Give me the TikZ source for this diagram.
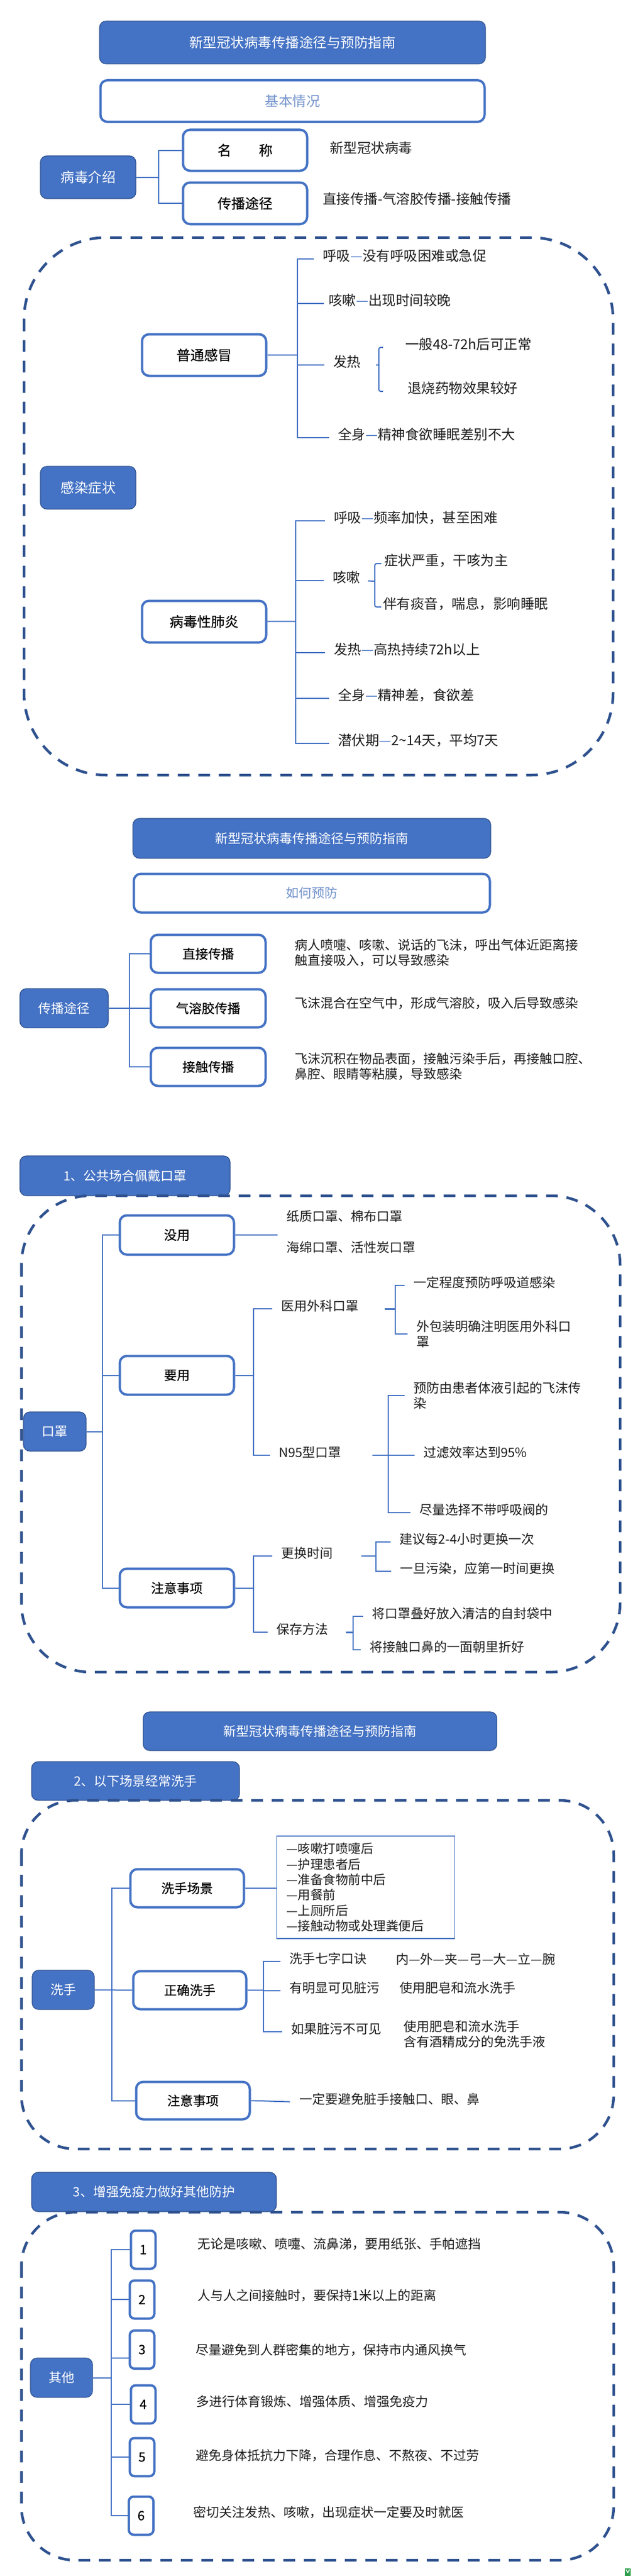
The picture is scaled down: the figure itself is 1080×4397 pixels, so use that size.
\documentclass[tikz,border=0pt]{standalone}
\usepackage{fontspec}
\setmainfont{Noto Sans CJK SC}
\newfontfamily\boxface[FakeBold=0.35]{Noto Sans CJK SC}
\usepackage{xcolor}
\definecolor{boxblue}{HTML}{4472C4}
\definecolor{edgeblue}{HTML}{2F528F}
\definecolor{paleblue}{HTML}{7393CB}
\definecolor{inkgrey}{HTML}{1C1C1C}
\definecolor{badgegreen}{HTML}{2E9E4A}
\newcommand{\sizeA}{\fontsize{23.5}{28}\selectfont}
\newcommand{\sizeB}{\fontsize{22}{26.5}\selectfont}
\newcommand{\bluedash}{\textcolor{boxblue}{—}}
\tikzset{
  headbox/.style={draw=edgeblue, fill=boxblue, line width=1.2pt, rounded corners=11pt,
    text=white, font=\sizeB, inner sep=0pt},
  outlinebox/.style={draw=boxblue, fill=white, line width=4pt, rounded corners=12pt,
    text=paleblue, font=\sizeB, inner sep=0pt},
  itembox/.style={draw=boxblue, fill=white, line width=4pt, rounded corners=12pt,
    text=black, font=\sizeB\boxface, inner sep=0pt},
  numbox/.style={itembox, minimum width=42pt, minimum height=65pt, rounded corners=8pt},
  txt/.style={anchor=west, inner sep=0pt, text=inkgrey, font=\sizeB,
    text height=.84em, text depth=.12em},
  txtm/.style={anchor=west, inner sep=0pt, text=inkgrey, font=\sizeB, align=left},
  link/.style={draw=boxblue, line width=2pt},
  tolabel/.style={link, shorten >=15pt},
  frame/.style={draw=edgeblue, line width=4.5pt, dash pattern=on 20pt off 15pt},
}
\begin{document}
\begin{tikzpicture}[x=1pt, y=-1pt]
  \useasboundingbox (0,0) rectangle (1080,4397);

  % ── Basic facts ──
  \begin{scope}[txt/.append style={font=\sizeA},
      headbox/.append style={font=\sizeA},
      outlinebox/.append style={font=\sizeA},
      itembox/.append style={font=\sizeA\boxface}]
    \node[headbox, minimum width=659pt, minimum height=73pt] (title1) at (499.5,72.5)
      {新型冠状病毒传播途径与预防指南};
    \node[outlinebox, minimum width=656pt, minimum height=71pt] (basic) at (499.5,172.5) {基本情况};

    \node[headbox, minimum width=163pt, minimum height=73pt] (intro) at (150.5,302.5) {病毒介绍};
    \node[itembox, minimum width=212pt, minimum height=70pt] (name) at (418.5,256.5) {名　　称};
    \node[itembox, minimum width=212pt, minimum height=71pt] (route) at (418.5,347) {传播途径};
    \node[txt] (nameval) at (563,258) {新型冠状病毒};
    \node[txt] (routeval) at (551,345) {直接传播-气溶胶传播-接触传播};
    \coordinate (it) at (271,302.5);
    \draw[link] (intro) -- (it);
    \draw[link] (name.west) -| (it) |- (route.west);

    % Symptoms frame
    \draw[frame, rounded corners=140pt] (41,405.5) rectangle (1047,1323);
    \node[headbox, minimum width=163pt, minimum height=73pt] (symptom) at (150.5,832.5) {感染症状};

    % Common cold
    \node[itembox, minimum width=212pt, minimum height=71pt] (cold) at (348.5,606) {普通感冒};
    \node[txt] (cbreath) at (551,442) {呼吸\bluedash 没有呼吸困难或急促};
    \node[txt] (ccough) at (561,517.5) {咳嗽\bluedash 出现时间较晚};
    \node[txt] (cfever) at (569,623) {发热};
    \node[txt] (cfevera) at (692,593) {一般48-72h后可正常};
    \node[txt] (cfeverb) at (696,668) {退烧药物效果较好};
    \node[txt] (cbody) at (577,747) {全身\bluedash 精神食欲睡眠差别不大};
    \coordinate (ct) at (508,606);
    \draw[link] (cold) -- (ct);
    \draw[tolabel] (ct) |- (cbreath.west);
    \draw[tolabel, shorten >=8pt] (ct) |- (ccough.west);
    \draw[tolabel] (ct) |- (cfever.west);
    \draw[tolabel] (ct) |- (cbody.west);
    \coordinate (cb) at (647,623);
    \draw[link, shorten <=26pt] (cfever.east) -- (cb);
    \draw[link, rounded corners=3pt, shorten >=38pt] (cb) |- (cfevera.west);
    \draw[link, rounded corners=3pt, shorten >=42pt] (cb) |- (cfeverb.west);

    % Viral pneumonia
    \node[itembox, minimum width=212pt, minimum height=71pt] (flu) at (348.5,1061) {病毒性肺炎};
    \node[txt] (fbreath) at (570,889) {呼吸\bluedash 频率加快，甚至困难};
    \node[txt] (fcough) at (568,991) {咳嗽};
    \node[txt] (fcougha) at (656,962) {症状严重，干咳为主};
    \node[txt] (fcoughb) at (654,1036) {伴有痰音，喘息，影响睡眠};
    \node[txt] (ffever) at (570,1114) {发热\bluedash 高热持续72h以上};
    \node[txt] (fbody) at (577,1191.5) {全身\bluedash 精神差，食欲差};
    \node[txt] (fdelay) at (577,1269) {潜伏期\bluedash 2\textasciitilde 14天，平均7天};
    \coordinate (ft) at (505,1060.5);
    \draw[link] (flu) -- (ft);
    \draw[tolabel] (ft) |- (fbreath.west);
    \draw[tolabel] (ft) |- (fcough.west);
    \draw[tolabel] (ft) |- (ffever.west);
    \draw[tolabel] (ft) |- (fbody.west);
    \draw[tolabel] (ft) |- (fdelay.west);
    \coordinate (fb) at (640,992);
    \draw[link, shorten <=13pt] (fcough.east) -- (fb);
    \draw[link, rounded corners=3pt, shorten >=5pt] (fb) |- (fcougha.west);
    \draw[link, rounded corners=3pt, shorten >=3pt] (fb) |- (fcoughb.west);
  \end{scope}

  % ── Transmission ──
  \node[headbox, minimum width=611pt, minimum height=68pt] (title2) at (532.5,1431)
    {新型冠状病毒传播途径与预防指南};
  \node[outlinebox, minimum width=608pt, minimum height=66pt] (howto) at (532.5,1524.5) {如何预防};
  \node[headbox, minimum width=151pt, minimum height=67pt] (route2) at (109.5,1721) {传播途径};
  \node[itembox, minimum width=196pt, minimum height=65pt] (direct) at (355.5,1628) {直接传播};
  \node[itembox, minimum width=196pt, minimum height=65pt] (aerosol) at (355.5,1721) {气溶胶传播};
  \node[itembox, minimum width=196pt, minimum height=65pt] (contact) at (355.5,1821) {接触传播};
  \node[txtm] (directval) at (503,1626.5) {病人喷嚏、咳嗽、说话的飞沫，呼出气体近距离接\\触直接吸入，可以导致感染};
  \node[txt] (aerosolval) at (503,1717) {飞沫混合在空气中，形成气溶胶，吸入后导致感染};
  \node[txtm] (contactval) at (503,1820.5) {飞沫沉积在物品表面，接触污染手后，再接触口腔、\\鼻腔、眼睛等粘膜，导致感染};
  \coordinate (rt) at (221,1721);
  \draw[link] (route2) -- (aerosol);
  \draw[link] (direct.west) -| (rt) |- (contact.west);

  % ── Masks ──
  \node[headbox, minimum width=359pt, minimum height=68pt] (title3) at (213.5,2007) {1、公共场合佩戴口罩};
  \draw[frame, rounded corners=118pt] (36.5,2041) rectangle (1059,2854);
  \node[headbox, minimum width=107pt, minimum height=67pt] (mask) at (93.5,2443.5) {口罩};
  \node[itembox, minimum width=195pt, minimum height=67pt] (useless) at (302,2108) {没用};
  \node[itembox, minimum width=195pt, minimum height=66pt] (useful) at (302,2347.5) {要用};
  \node[itembox, minimum width=195pt, minimum height=66pt] (notes) at (302,2710.5) {注意事项};
  \coordinate (mt) at (175,2443.5);
  \draw[link] (mask) -- (mt);
  \draw[link] (useless.west) -| (mt) |- (notes.west);
  \draw[link] (useful.west -| mt) -- (useful.west);

  % Useless kinds
  \node[txt] (uselessa) at (489,2081) {纸质口罩、棉布口罩};
  \node[txt] (uselessb) at (489,2134) {海绵口罩、活性炭口罩};
  \coordinate (uselessend) at (474,2108);
  \draw[link] (useless.east) -- (uselessend);

  % Useful kinds
  \node[txt] (surgical) at (480,2234) {医用外科口罩};
  \node[txt] (surgicala) at (706,2194) {一定程度预防呼吸道感染};
  \node[txtm] (surgicalb) at (711,2277) {外包装明确注明医用外科口\\罩};
  \node[txt] (nninety) at (476,2484) {N95型口罩};
  \node[txtm] (nninetya) at (706,2382) {预防由患者体液引起的飞沫传\\染};
  \node[txt] (nninetyb) at (723,2484) {过滤效率达到95\%};
  \node[txt] (nninetyc) at (716,2582) {尽量选择不带呼吸阀的};
  \coordinate (ut) at (433,2347.5);
  \draw[link] (useful) -- (ut);
  \draw[tolabel] (ut) |- (surgical.west);
  \draw[tolabel] (ut) |- (nninety.west);
  \coordinate (st) at (675,2234);
  \draw[link, shorten <=45pt, line width=3pt] (surgical.east) -- (st);
  \draw[tolabel] (st) |- (surgicala.west);
  \draw[tolabel] (st) |- (surgicalb.west);
  \coordinate (nt) at (662.5,2484);
  \draw[link, shorten <=53pt, shorten >=15pt] (nninety.east) -- (nninetyb.west);
  \draw[tolabel] (nt) |- (nninetya.west);
  \draw[tolabel] (nt) |- (nninetyc.west);

  % Notes
  \node[txt] (swap) at (480,2656) {更换时间};
  \node[txt] (swapa) at (682,2632) {建议每2-4小时更换一次};
  \node[txt] (swapb) at (683,2682) {一旦污染，应第一时间更换};
  \node[txt] (store) at (472,2786) {保存方法};
  \node[txt] (storea) at (635,2759) {将口罩叠好放入清洁的自封袋中};
  \node[txt] (storeb) at (631,2816) {将接触口鼻的一面朝里折好};
  \coordinate (nnt) at (433,2710.5);
  \draw[link] (notes) -- (nnt);
  \draw[tolabel] (nnt) |- (swap.west);
  \draw[tolabel] (nnt) |- (store.west);
  \coordinate (swt) at (642,2656);
  \draw[link, shorten <=49pt] (swap.east) -- (swt);
  \draw[tolabel] (swt) |- (swapa.west);
  \draw[tolabel] (swt) |- (swapb.west);
  \coordinate (stt) at (603,2786);
  \draw[link, shorten <=31pt, line width=3pt] (store.east) -- (stt);
  \draw[tolabel] (stt) |- (storea.west);
  \draw[tolabel] (stt) |- (storeb.west);

  % ── Hand washing ──
  \node[headbox, minimum width=604pt, minimum height=66pt] (title4) at (546.5,2955)
    {新型冠状病毒传播途径与预防指南};
  \node[headbox, minimum width=355pt, minimum height=66pt] (title5) at (231.5,3040) {2、以下场景经常洗手};
  \draw[frame, rounded corners=92pt] (36.5,3073) rectangle (1048,3668);
  \node[headbox, minimum width=106pt, minimum height=67pt] (wash) at (108,3396.5) {洗手};
  \node[itembox, minimum width=194pt, minimum height=65pt] (scene) at (319.5,3223) {洗手场景};
  \node[itembox, minimum width=193pt, minimum height=65pt] (rightway) at (324,3397) {正确洗手};
  \node[itembox, minimum width=194pt, minimum height=64pt] (notes2) at (329.5,3585.5) {注意事项};
  \coordinate (wt) at (191,3396.5);
  \draw[link] (wash) -- (rightway);
  \draw[link] (scene.west) -| (wt) |- (notes2.west);

  % When to wash
  \node[draw=boxblue, line width=1.6pt, inner xsep=17pt, minimum height=175pt, text width=270pt,
    align=left, text=inkgrey, font=\fontsize{21.5}{26.4}\selectfont] (when) at (624.5,3221.5)
    {—咳嗽打喷嚏后\\—护理患者后\\—准备食物前中后\\—用餐前\\—上厕所后\\—接触动物或处理粪便后};
  \draw[link] (scene.east) -- (scene.east -| when.west);

  % How to wash
  \node[txt] (rhyme) at (494,3348) {洗手七字口诀};
  \node[txt] (rhymeval) at (676,3349) {内—外—夹—弓—大—立—腕};
  \node[txt] (dirty) at (494,3398) {有明显可见脏污};
  \node[txt] (dirtyval) at (682,3398) {使用肥皂和流水洗手};
  \node[txt] (clean) at (497,3468) {如果脏污不可见};
  \node[txtm] (cleanval) at (689,3472) {使用肥皂和流水洗手\\含有酒精成分的免洗手液};
  \coordinate (rwt) at (450,3397);
  \draw[link] (rightway.east) -- (rwt);
  \draw[tolabel] (rwt) |- (rhyme.west);
  \draw[tolabel] (rwt) |- (dirty.west);
  \draw[tolabel] (rwt) |- (clean.west);

  \node[txt] (notes2val) at (511,3588) {一定要避免脏手接触口、眼、鼻};
  \draw[tolabel, shorten >=16pt] (notes2.east) -- (notes2val.west);

  % ── Immunity and other protection ──
  \node[headbox, minimum width=418pt, minimum height=67pt] (title6) at (263,3741.5) {3、增强免疫力做好其他防护};
  \draw[frame, rounded corners=92pt] (36.5,3776) rectangle (1048,4370);
  \node[headbox, minimum width=106pt, minimum height=67pt] (other) at (105,4058.5) {其他};
  \node[numbox] (one) at (244.5,3840) {1};
  \node[numbox] (two) at (242.5,3925) {2};
  \node[numbox] (three) at (242.5,4010.5) {3};
  \node[numbox] (four) at (244.5,4104) {4};
  \node[numbox] (five) at (242.5,4194) {5};
  \node[numbox] (six) at (241,4294) {6};
  \node[txt] (oneval) at (337.5,3835) {无论是咳嗽、喷嚏、流鼻涕，要用纸张、手帕遮挡};
  \node[txt] (twoval) at (337.5,3923) {人与人之间接触时，要保持1米以上的距离};
  \node[txt] (threeval) at (334,4016) {尽量避免到人群密集的地方，保持市内通风换气};
  \node[txt] (fourval) at (335,4104) {多进行体育锻炼、增强体质、增强免疫力};
  \node[txt] (fiveval) at (334,4195.5) {避免身体抵抗力下降，合理作息、不熬夜、不过劳};
  \node[txt] (sixval) at (330.5,4293) {密切关注发热、咳嗽，出现症状一定要及时就医};
  \coordinate (ot) at (190,4058.5);
  \coordinate (threejoin) at (190,4025);
  \draw[link] (other) -- (ot);
  \draw[link] (one.west) -| (ot) |- (six.west);
  \draw[link] (ot |- two.west) -- (two.west);
  \draw[link] (threejoin) -- (threejoin -| three.west);
  \draw[link] (ot |- four.west) -- (four.west);
  \draw[link] (ot |- five.west) -- (five.west);

  % Corner badge
  \fill[badgegreen] (1067,4384) rectangle (1077,4397);
  \draw[white, line width=1.5pt] (1069,4386) -- (1072,4391) -- (1075,4386);
\end{tikzpicture}
\end{document}
